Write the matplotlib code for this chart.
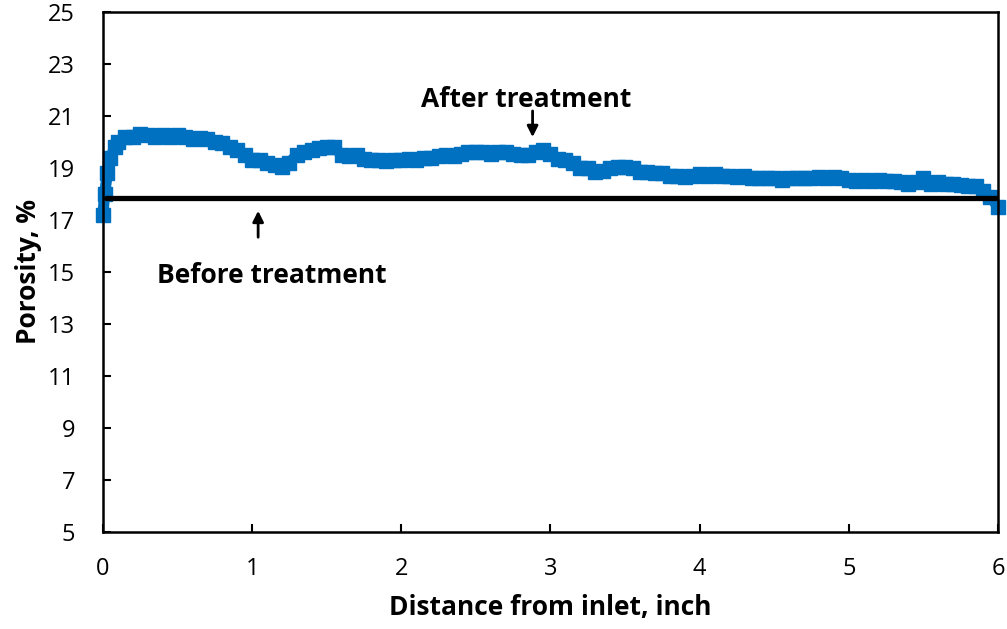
import matplotlib
matplotlib.use("Agg")
import matplotlib.pyplot as plt

# porosidade ao longo da amostra
dist = [0.00, 0.01, 0.03, 0.05, 0.08, 0.10, 0.15, 0.20, 0.25, 0.30, 0.35, 0.40,
        0.45, 0.50, 0.55, 0.60, 0.65, 0.70, 0.75, 0.80, 0.85, 0.90, 0.95, 1.00,
        1.05, 1.10, 1.15, 1.20, 1.25, 1.30, 1.35, 1.40, 1.45, 1.50, 1.55, 1.60,
        1.65, 1.70, 1.75, 1.80, 1.85, 1.90, 1.95, 2.00, 2.05, 2.10, 2.15, 2.20,
        2.25, 2.30, 2.35, 2.40, 2.45, 2.50, 2.55, 2.60, 2.65, 2.70, 2.75, 2.80,
        2.85, 2.90, 2.95, 3.00, 3.05, 3.10, 3.15, 3.20, 3.25, 3.30, 3.35, 3.40,
        3.45, 3.50, 3.55, 3.60, 3.65, 3.70, 3.75, 3.80, 3.85, 3.90, 3.95, 4.00,
        4.05, 4.10, 4.15, 4.20, 4.25, 4.30, 4.35, 4.40, 4.45, 4.50, 4.55, 4.60,
        4.65, 4.70, 4.75, 4.80, 4.85, 4.90, 4.95, 5.00, 5.05, 5.10, 5.15, 5.20,
        5.25, 5.30, 5.35, 5.40, 5.45, 5.50, 5.55, 5.60, 5.65, 5.70, 5.75, 5.80,
        5.85, 5.90, 5.95, 6.00]
after = [17.2, 18.0, 18.8, 19.4, 19.8, 20.0, 20.2, 20.2, 20.3, 20.25, 20.2, 20.25,
         20.2, 20.25, 20.2, 20.1, 20.15, 20.1, 20.0, 19.95, 19.8, 19.7, 19.5, 19.3,
         19.3, 19.2, 19.1, 19.05, 19.2, 19.5, 19.6, 19.7, 19.75, 19.8, 19.8, 19.5,
         19.45, 19.5, 19.35, 19.3, 19.3, 19.25, 19.3, 19.3, 19.35, 19.3, 19.4, 19.4,
         19.45, 19.5, 19.45, 19.55, 19.6, 19.6, 19.6, 19.55, 19.6, 19.6, 19.55, 19.5,
         19.5, 19.6, 19.7, 19.55, 19.35, 19.3, 19.2, 19.0, 19.0, 18.85, 18.9, 19.0,
         19.05, 19.05, 19.0, 18.85, 18.85, 18.8, 18.8, 18.7, 18.7, 18.65, 18.7, 18.75,
         18.7, 18.75, 18.7, 18.7, 18.65, 18.7, 18.6, 18.6, 18.6, 18.6, 18.55, 18.6,
         18.6, 18.6, 18.6, 18.65, 18.6, 18.65, 18.6, 18.55, 18.5, 18.55, 18.5, 18.55,
         18.5, 18.5, 18.45, 18.4, 18.45, 18.6, 18.4, 18.45, 18.4, 18.4, 18.35, 18.3,
         18.3, 18.1, 17.9, 17.5]

# antes do tratamento: valor constante
before_x = [0.02, 6]
before_y = [17.85, 17.85]

xticks = [0, 1, 2, 3, 4, 5, 6]
yticks = [5, 7, 9, 11, 13, 15, 17, 19, 21, 23, 25]

plt.rcParams['font.family'] = ['Open Sans', 'DejaVu Sans']

fig = plt.figure(figsize=(10.07, 6.29), dpi=100)
ax = fig.add_axes([0.1023, 0.1542, 0.8887, 0.8268])

ax.plot(dist, after, color='#0070C0', marker='s', markersize=9.5, linestyle='-',
        linewidth=8, zorder=2, clip_on=False)
ax.plot(before_x, before_y, color='black', linewidth=3.8, solid_capstyle='round', zorder=3)

# setas e textos
ax.annotate('', xy=(2.88, 20.08), xytext=(2.88, 21.3),
            arrowprops=dict(arrowstyle='-|>', color='black', lw=2, mutation_scale=16))
ax.text(2.84, 21.65, 'After treatment', ha='center', va='center', fontsize=19, fontweight='bold')
ax.annotate('', xy=(1.04, 17.46), xytext=(1.04, 16.23),
            arrowprops=dict(arrowstyle='-|>', color='black', lw=2, mutation_scale=16))
ax.text(1.13, 14.85, 'Before treatment', ha='center', va='center', fontsize=19, fontweight='bold')

ax.set_xlim(0, 6)
ax.set_ylim(5, 25)
ax.set_xticks(xticks)
ax.set_yticks(yticks)
ax.tick_params(direction='in', length=6, width=1.5, labelsize=17)
ax.tick_params(axis='x', pad=18)
ax.tick_params(axis='y', pad=20)
for s in ax.spines.values():
    s.set_linewidth(1.8)

ax.set_xlabel('Distance from inlet, inch', fontsize=19, fontweight='bold', labelpad=9)
ax.set_ylabel('Porosity, %', fontsize=19, fontweight='bold', labelpad=4)

fig.savefig('out.png', dpi=100)
